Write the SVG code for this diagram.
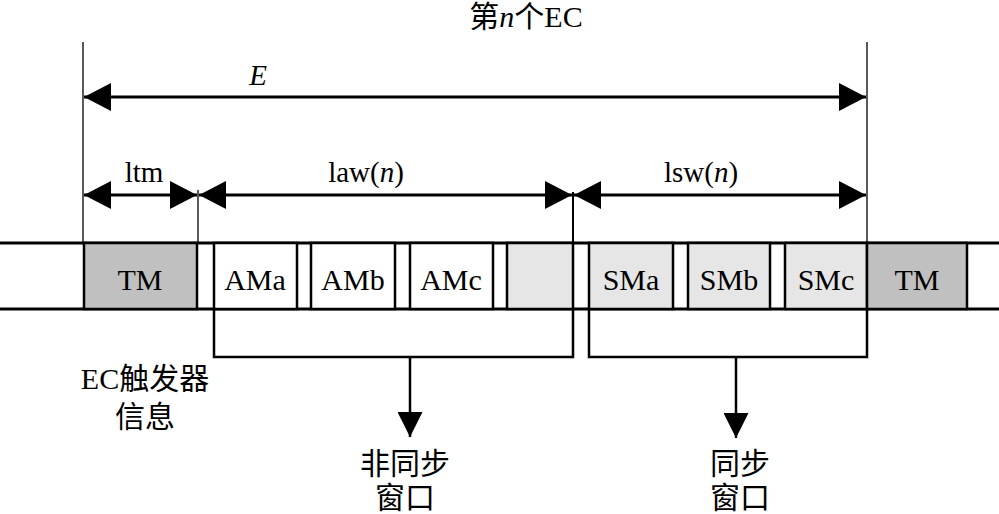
<svg xmlns="http://www.w3.org/2000/svg" width="999" height="514" viewBox="0 0 999 514">
<defs>
<marker id="ah" viewBox="0 0 27 28" markerWidth="27" markerHeight="28" refX="27" refY="14" orient="auto-start-reverse" markerUnits="userSpaceOnUse">
<path d="M0,0 L27,14 L0,28 Z" fill="#000"/>
</marker>
<marker id="dn" viewBox="0 0 25 25" markerWidth="25" markerHeight="25" refX="25" refY="12.5" orient="auto" markerUnits="userSpaceOnUse">
<path d="M0,0 L25,12.5 L0,25 Z" fill="#000"/>
</marker>
<style>
text{font-family:"Liberation Serif","Noto Sans CJK SC",serif;fill:#000;text-anchor:middle}
.lbl{font-size:30px}
.dim{font-size:29px}
.box{stroke:#000;stroke-width:2.5}
.tm{fill:#c0c0c0}
.am{fill:#fff}
.sm{fill:#e6e6e6}
.thin{stroke:#000;stroke-width:1.3;fill:none}
.arr{stroke:#000;stroke-width:3;fill:none}
.br{stroke:#000;stroke-width:2.5;fill:none}
</style>
</defs>
<text x="526" y="27" class="lbl">第<tspan font-style="italic">n</tspan>个EC</text>
<text x="258" y="85" class="dim" font-style="italic">E</text>
<text x="144" y="182" class="dim">ltm</text>
<text x="366" y="182" class="dim">law(<tspan font-style="italic">n</tspan>)</text>
<text x="701" y="182" class="dim">lsw(<tspan font-style="italic">n</tspan>)</text>
<g id="bus">
<line x1="0" y1="243" x2="999" y2="243" stroke="#000" stroke-width="3"/>
<line x1="0" y1="309" x2="999" y2="309" stroke="#000" stroke-width="3"/>
</g>
<g id="tm1"><rect x="84" y="243" width="113" height="66" class="box tm"/><text x="140" y="290" class="lbl">TM</text></g>
<g id="ama"><rect x="214" y="243" width="83" height="66" class="box am"/><text x="255" y="290" class="lbl">AMa</text></g>
<g id="amb"><rect x="311" y="243" width="84" height="66" class="box am"/><text x="353" y="290" class="lbl">AMb</text></g>
<g id="amc"><rect x="410" y="243" width="83" height="66" class="box am"/><text x="451" y="290" class="lbl">AMc</text></g>
<g id="blank"><rect x="507" y="243" width="66" height="66" class="box sm"/></g>
<g id="sma"><rect x="589" y="243" width="84" height="66" class="box sm"/><text x="631" y="290" class="lbl">SMa</text></g>
<g id="smb"><rect x="688" y="243" width="82" height="66" class="box sm"/><text x="729" y="290" class="lbl">SMb</text></g>
<g id="smc"><rect x="785" y="243" width="82" height="66" class="box sm"/><text x="826" y="290" class="lbl">SMc</text></g>
<g id="tm2"><rect x="867" y="243" width="100" height="66" class="box tm"/><text x="917" y="290" class="lbl">TM</text></g>
<g id="trig"><text x="145" y="389" class="lbl">EC触发器</text><text x="145" y="427" class="lbl">信息</text></g>
<g id="async"><text x="405" y="474" class="lbl">非同步</text><text x="405" y="508" class="lbl">窗口</text></g>
<g id="sync"><text x="740" y="474" class="lbl">同步</text><text x="740" y="508" class="lbl">窗口</text></g>
<g id="connectors">
<line x1="83" y1="42" x2="83" y2="243" class="thin"/>
<line x1="867" y1="42" x2="867" y2="243" class="thin"/>
<line x1="198" y1="190" x2="198" y2="243" class="thin"/>
<line x1="573" y1="192" x2="573" y2="243" stroke="#000" stroke-width="2"/>
<line x1="84" y1="97" x2="866" y2="97" class="arr" marker-start="url(#ah)" marker-end="url(#ah)"/>
<line x1="84" y1="195" x2="197" y2="195" class="arr" marker-start="url(#ah)" marker-end="url(#ah)"/>
<line x1="199" y1="195" x2="572" y2="195" class="arr" marker-start="url(#ah)" marker-end="url(#ah)"/>
<line x1="574" y1="195" x2="866" y2="195" class="arr" marker-start="url(#ah)" marker-end="url(#ah)"/>
<path d="M214,309 V357 H573 V309" class="br"/>
<path d="M589,309 V357 H867 V309" class="br"/>
<line x1="410" y1="357" x2="410" y2="437" class="br" marker-end="url(#dn)"/>
<line x1="736" y1="357" x2="736" y2="438" class="br" marker-end="url(#dn)"/>
</g>
</svg>
